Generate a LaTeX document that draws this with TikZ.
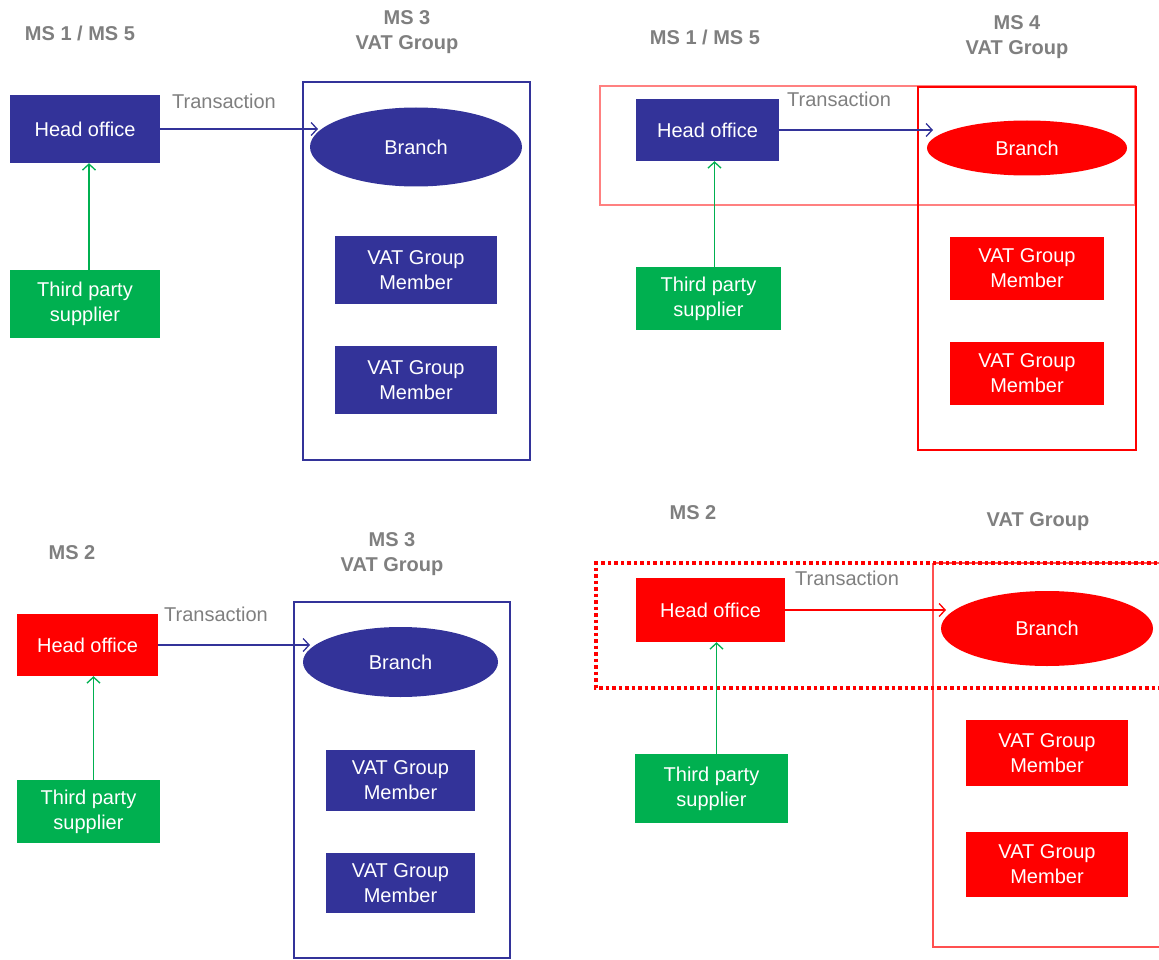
\documentclass[tikz,border=0pt]{standalone}
\usepackage{fontspec}
\setmainfont{Liberation Sans}
\usetikzlibrary{arrows.meta,shapes.geometric}
\definecolor{navy}{HTML}{333399}
\definecolor{vred}{HTML}{FF0000}
\definecolor{vgreen}{HTML}{00B050}
\definecolor{tgray}{HTML}{7F7F7F}
\definecolor{softred}{HTML}{FF5050}
\definecolor{pinkred}{HTML}{FF8080}
\tikzset{
  box/.style={rectangle, inner sep=0pt, text=white, align=center,
    font=\fontsize{20}{25}\selectfont},
  bluebox/.style={box, fill=navy},
  redbox/.style={box, fill=vred},
  greenbox/.style={box, fill=vgreen},
  oval/.style={ellipse, inner sep=0pt, text=white,
    font=\fontsize{20}{25}\selectfont},
  header/.style={text=tgray, align=center,
    font=\bfseries\fontsize{20}{25}\selectfont},
  txlabel/.style={text=tgray, font=\fontsize{20}{24}\selectfont},
  flow/.style={-{Straight Barb[length=6pt,width=13pt]}, line width=1.3pt},
}
\begin{document}
\begin{tikzpicture}[x=1pt,y=-1pt]
\useasboundingbox (0,0) rectangle (1159,960);

% ---------- upper left ----------
\node[header] (h1) at (80,33) {MS 1 / MS 5};
\node[header] (g1t) at (407,32.5) {MS 3\\VAT Group};
\draw[navy, line width=1.2pt] (303,82) rectangle (530,460);
\node[bluebox, minimum width=150pt, minimum height=68pt] (ho1) at (85,129) {Head office};
\node[greenbox, minimum width=150pt, minimum height=68pt] (tp1) at (85,304) {Third party\\supplier};
\node[oval, fill=navy, minimum width=212pt, minimum height=79pt] (br1) at (416,147) {Branch};
\node[bluebox, minimum width=162pt, minimum height=68pt] (m1a) at (416,270) {VAT Group\\Member};
\node[bluebox, minimum width=162pt, minimum height=68pt] (m1b) at (416,380) {VAT Group\\Member};
\node[txlabel] (tx1) at (224,101) {Transaction};
\coordinate (e1) at (318,129);
\draw[flow, navy] (ho1.east) -- (e1);
\draw[flow, vgreen] ([xshift=4pt]tp1.north) -- ([xshift=4pt]ho1.south);

% ---------- upper right ----------
\node[header] (h2) at (705,37) {MS 1 / MS 5};
\node[header] (g2t) at (1017,37.5) {MS 4\\VAT Group};
\draw[pinkred, line width=1.2pt] (600,86) rectangle (1135,205);
\draw[vred, line width=1.8pt] (918,87) rectangle (1136,450);
\node[bluebox, minimum width=143pt, minimum height=62pt] (ho2) at (707.5,130) {Head office};
\node[greenbox, minimum width=145pt, minimum height=63pt] (tp2) at (708.5,298.5) {Third party\\supplier};
\node[oval, fill=vred, minimum width=200pt, minimum height=55pt] (br2) at (1027,148) {Branch};
\node[redbox, minimum width=154pt, minimum height=63pt] (m2a) at (1027,268.5) {VAT Group\\Member};
\node[redbox, minimum width=154pt, minimum height=63pt] (m2b) at (1027,373.5) {VAT Group\\Member};
\node[txlabel] (tx2) at (839,99) {Transaction};
\coordinate (e2) at (933,130);
\draw[flow, navy] (ho2.east) -- (e2);
\draw[flow, vgreen] ([xshift=6pt]tp2.north) -- ([xshift=6pt]tp2.north |- ho2.south);

% ---------- lower left ----------
\node[header] (h3) at (72,553) {MS 2};
\node[header] (g3t) at (392,554) {MS 3\\VAT Group};
\draw[navy, line width=1.2pt] (294,602) rectangle (510,958);
\node[redbox, minimum width=141pt, minimum height=62pt] (ho3) at (87.5,645) {Head office};
\node[greenbox, minimum width=143pt, minimum height=63pt] (tp3) at (88.5,811.5) {Third party\\supplier};
\node[oval, fill=navy, minimum width=195pt, minimum height=70pt] (br3) at (400.5,662) {Branch};
\node[bluebox, minimum width=149pt, minimum height=61pt] (m3a) at (400.5,780.5) {VAT Group\\Member};
\node[bluebox, minimum width=149pt, minimum height=60pt] (m3b) at (400.5,883) {VAT Group\\Member};
\node[txlabel] (tx3) at (216,614) {Transaction};
\coordinate (e3) at (310,645);
\draw[flow, navy] (ho3.east) -- (e3);
\draw[flow, vgreen] ([xshift=5pt]tp3.north) -- ([xshift=5pt]tp3.north |- ho3.south);

% ---------- lower right ----------
\node[header] (h4) at (693,513) {MS 2};
\node[header] (g4t) at (1038,522) {VAT Group};
\draw[softred, line width=2pt] (933,563) -- (1170,563) (933,563) -- (933,947) -- (1170,947);
\draw[vred, line width=3.5pt, dash pattern=on 3.5pt off 3pt] (1170,563) -- (596,563) -- (596,688) -- (1170,688);
\node[redbox, minimum width=149pt, minimum height=64pt] (ho4) at (710.5,610) {Head office};
\node[greenbox, minimum width=153pt, minimum height=69pt] (tp4) at (711.5,788.5) {Third party\\supplier};
\node[oval, fill=vred, minimum width=212pt, minimum height=75pt] (br4) at (1047,628.5) {Branch};
\node[redbox, minimum width=162pt, minimum height=66pt] (m4a) at (1047,753) {VAT Group\\Member};
\node[redbox, minimum width=162pt, minimum height=65pt] (m4b) at (1047,864.5) {VAT Group\\Member};
\node[txlabel] (tx4) at (847,578) {Transaction};
\coordinate (e4) at (946,610);
\draw[flow, vred] (ho4.east) -- (e4);
\draw[flow, vgreen] ([xshift=5pt]tp4.north) -- ([xshift=5pt]tp4.north |- ho4.south);
\end{tikzpicture}
\end{document}
